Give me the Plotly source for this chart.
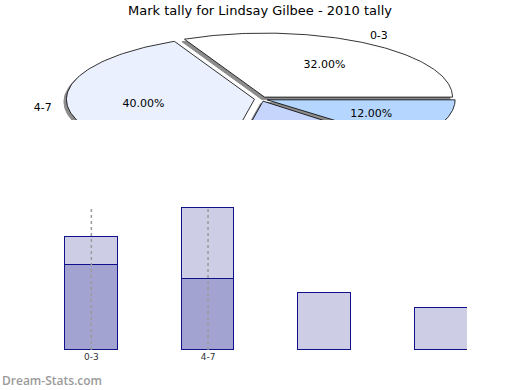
import numpy as np
import plotly.graph_objects as go

# ---- data ----
categories = ["0-3", "4-7", "8-11", "12-15"]
tally_dark = [6, 5, None, None]
tally_light = [2, 5, 4, 3]
totals = [8, 10, 4, 3]
tick_labels = ["0-3", "4-7"]
pie_colors = ["#ffffff", "#eaf0fd", "#c5d5fb", "#b5d6ff"]
title = "Mark tally for Lindsay Gilbee - 2010 tally"

W, H = 520, 390
FONT = "DejaVu Sans"

# ---- pie geometry (ellipse via axis scaling) ----
cx_px, cy_px, rx_px, ry_px = 261, 99, 188, 64
pie_top_px, pie_bot_px = 20, 120
explode = 0.035

fig = go.Figure()

tot = sum(totals)
fracs = [t / tot for t in totals]
starts = np.cumsum([0] + fracs[:-1]) * 360.0

shadow_dx = -2.5 / rx_px
shadow_dy = -2.5 / ry_px

slices = []
for i, (f, s) in enumerate(zip(fracs, starts)):
    a0, a1 = np.radians(s), np.radians(s + f * 360)
    mid = (a0 + a1) / 2
    ox, oy = explode * np.cos(mid), explode * np.sin(mid)
    th = np.linspace(a0, a1, 120)
    xs = np.concatenate([[0], np.cos(th), [0]]) + ox
    ys = np.concatenate([[0], np.sin(th), [0]]) + oy
    slices.append((xs, ys, mid, f))

for xs, ys, mid, f in slices:
    fig.add_trace(go.Scatter(x=xs + shadow_dx, y=ys + shadow_dy, mode="lines",
                             fill="toself", fillcolor="#8c8c8c",
                             line=dict(color="#8c8c8c", width=1),
                             xaxis="x2", yaxis="y2", hoverinfo="skip", showlegend=False))
for i, (xs, ys, mid, f) in enumerate(slices):
    fig.add_trace(go.Scatter(x=xs, y=ys, mode="lines", fill="toself",
                             fillcolor=pie_colors[i], line=dict(color="#000000", width=0.8),
                             xaxis="x2", yaxis="y2", hoverinfo="skip", showlegend=False))

# percentage labels and outer labels
px_ = [0.63 * np.cos(m) for _, _, m, _ in slices]
py_ = [0.63 * np.sin(m) for _, _, m, _ in slices]
fig.add_trace(go.Scatter(x=px_, y=py_, mode="text",
                         text=[f"{f*100:.2f}%" for *_, f in slices],
                         textfont=dict(family=FONT, size=11, color="#000"),
                         xaxis="x2", yaxis="y2", hoverinfo="skip", showlegend=False,
                         cliponaxis=True))
ox_ = [1.17 * np.cos(m) for _, _, m, _ in slices]
oy_ = [1.17 * np.sin(m) for _, _, m, _ in slices]
fig.add_trace(go.Scatter(x=ox_, y=oy_, mode="text", text=categories,
                         textfont=dict(family=FONT, size=11, color="#000"),
                         xaxis="x2", yaxis="y2", hoverinfo="skip", showlegend=False,
                         cliponaxis=True))

# ---- bars ----
fig.add_trace(go.Bar(x=categories, y=tally_dark, width=0.45,
                     marker=dict(color="#a3a3d1", line=dict(color="#10108a", width=1.4)),
                     showlegend=False))
fig.add_trace(go.Bar(x=categories, y=tally_light, width=0.45,
                     marker=dict(color="#cdcde6", line=dict(color="#10108a", width=1.4)),
                     showlegend=False))
ymax = 10
for c in tick_labels:
    fig.add_trace(go.Scatter(x=[c, c], y=[0, ymax], mode="lines",
                             line=dict(color="#9a9a9a", width=1.5, dash="dot"),
                             hoverinfo="skip", showlegend=False))

# pie axis ranges
xr = [(0 - cx_px) / rx_px, (W - cx_px) / rx_px]
yr = [-(pie_bot_px - cy_px) / ry_px, (cy_px - pie_top_px) / ry_px]

bar_left, bar_right, bar_bot, bar_top = 33, 467, 350, 207

fig.update_layout(
    width=W, height=H, margin=dict(l=0, r=0, t=0, b=0),
    paper_bgcolor="white", plot_bgcolor="rgba(0,0,0,0)",
    barmode="stack", bargap=0,
    title=dict(text=title, x=0.5, xanchor="center", y=1 - 10 / H, yanchor="middle",
               font=dict(family=FONT, size=13, color="#000")),
    xaxis=dict(domain=[bar_left / W, bar_right / W], type="category",
               categoryorder="array", categoryarray=categories,
               range=[-0.5, -0.5 + (bar_right - bar_left) / 116.7],
               tickvals=tick_labels, ticktext=tick_labels, showgrid=False,
               showline=False, zeroline=False, ticks="",
               tickfont=dict(family=FONT, size=9, color="#333")),
    yaxis=dict(domain=[1 - bar_bot / H, 1 - bar_top / H], range=[0, ymax * 1.01],
               showticklabels=False, showgrid=False, zeroline=False, showline=False),
    xaxis2=dict(domain=[0, 1], range=xr, visible=False, anchor="y2"),
    yaxis2=dict(domain=[1 - pie_bot_px / H, 1 - pie_top_px / H], range=yr,
                visible=False, anchor="x2"),
    annotations=[dict(text="Dream-Stats.com", x=0, y=1 - 380 / H,
                      xref="paper", yref="paper", xanchor="left", yanchor="middle",
                      showarrow=False,
                      font=dict(family="Open Sans", size=12, weight=600, color="#9a9a9a"))],
)

fig.write_html("out.html")
